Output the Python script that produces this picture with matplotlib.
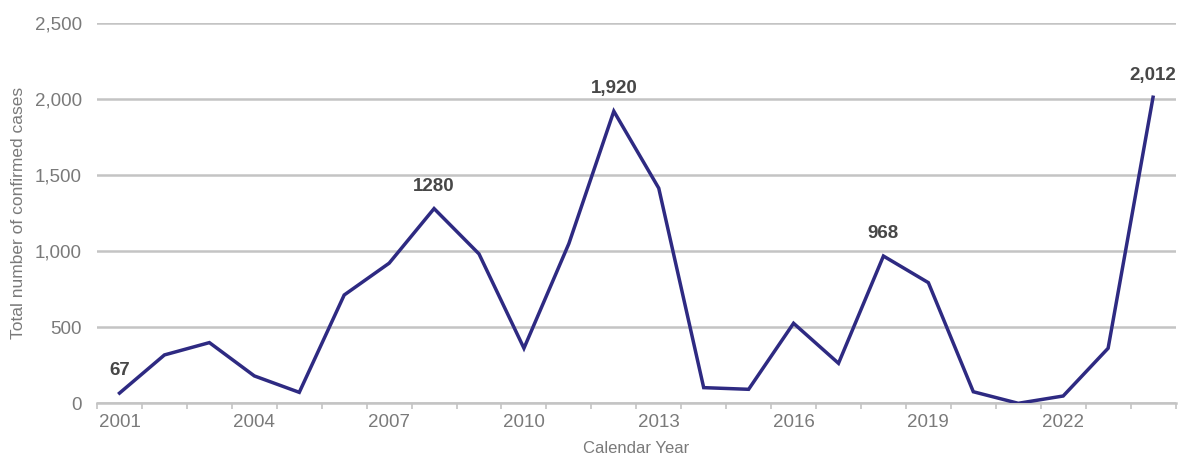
import matplotlib
matplotlib.use('Agg')
import matplotlib.pyplot as plt
from matplotlib.ticker import FuncFormatter, FixedLocator

plt.rcParams['font.family'] = ['Liberation Sans', 'DejaVu Sans']

# data
years = list(range(2001, 2025))
cases = [67, 318, 399, 180, 72, 712, 921, 1280, 982, 362, 1050, 1920,
         1414, 103, 92, 526, 263, 968, 793, 76, 0, 48, 362, 2012]
labelled = {2001: '67', 2008: '1280', 2012: '1,920', 2018: '968', 2024: '2,012'}

line_color = '#2e2a82'
grid_color = '#c4c4c4'
tick_color = '#7a7a7a'

fig = plt.figure(figsize=(11.85, 4.57), dpi=100)
ax = fig.add_axes([0.0819, 0.1175, 0.9101, 0.8322])

x = list(range(len(years)))
ax.plot(x, cases, color=line_color, lw=2.5, solid_joinstyle='miter', zorder=3)

for i, (yr, val) in enumerate(zip(years, cases)):
    if yr in labelled:
        ax.annotate(labelled[yr], (i, val), xytext=(0, 16), textcoords='offset points',
                    ha='center', va='center', fontsize=13.5, fontweight='bold',
                    color='#474747')

ax.set_xlim(-0.5, len(years) - 0.5)
ax.set_ylim(0, 2500)
ax.set_yticks([0, 500, 1000, 1500, 2000, 2500])
ax.yaxis.set_major_formatter(FuncFormatter(lambda v, p: f'{int(v):,}'))
ax.yaxis.grid(True, color=grid_color, lw=1.8)
ax.set_axisbelow(True)

# year labels every third year, tick marks at category boundaries
ax.set_xticks([i for i, yr in enumerate(years) if (yr - 2001) % 3 == 0])
ax.set_xticklabels([str(yr) for yr in years if (yr - 2001) % 3 == 0])
ax.xaxis.set_minor_locator(FixedLocator([i - 0.5 for i in range(len(years) + 1)]))
ax.tick_params(axis='x', which='major', length=0, pad=8, labelsize=13.5, labelcolor=tick_color)
ax.tick_params(axis='x', which='minor', length=4, width=1.2, color=grid_color)
ax.tick_params(axis='y', length=0, pad=11, labelsize=13.5, labelcolor=tick_color)

for side in ['top', 'right', 'left']:
    ax.spines[side].set_visible(False)
ax.spines['bottom'].set_color(grid_color)
ax.spines['bottom'].set_linewidth(1.8)

ax.set_ylabel('Total number of confirmed cases', fontsize=12.5, color=tick_color, labelpad=6)
ax.set_xlabel('Calendar Year', fontsize=12, color=tick_color, labelpad=7)

fig.savefig('out.png', dpi=100)
